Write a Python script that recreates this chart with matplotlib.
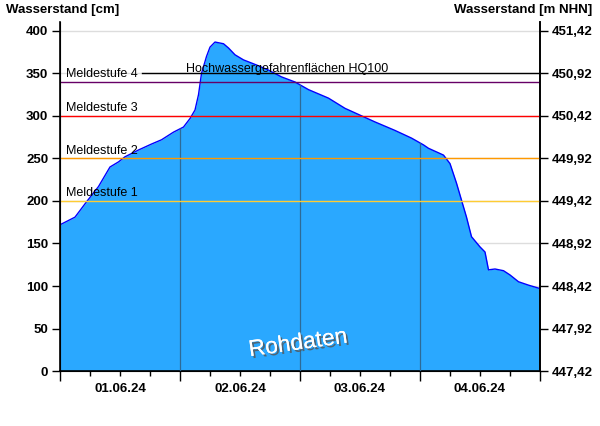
import numpy as np
import matplotlib.pyplot as plt
import matplotlib.patheffects as pe

plt.rcParams['font.family'] = ['Liberation Sans', 'DejaVu Sans']

# water level, hours since 01.06.24 00:00 -> cm
hours = [0, 3, 5.3, 7.7, 10, 11.7, 13, 15.7, 18.3, 20.3, 22.7, 24.7, 26, 27, 27.7,
         28.3, 29.3, 30, 31, 32.7, 33.7, 35, 36.7, 39.3, 41.7, 44.3, 47, 49.7, 53.7,
         57, 60, 63, 67, 70.3, 72.7, 73.7, 76.7, 78, 79.3, 80.3, 81.3, 82.3, 84, 85,
         85.7, 87, 88.7, 90, 91.7, 93.7, 96]
level = [172, 181, 199, 217, 240, 246, 252, 260, 267, 272, 281, 287, 297, 307, 325,
         350, 370, 381, 387, 385, 380, 372, 366, 360, 354, 346, 340, 331, 321,
         309, 301, 293, 283, 274, 266, 262, 254, 244, 221, 201, 181, 158, 146, 140,
         119, 120, 118, 113, 105, 101, 97]

day_labels = ["01.06.24", "02.06.24", "03.06.24", "04.06.24"]

# warning levels (Meldestufen)
stufen_names = ["Meldestufe 1", "Meldestufe 2", "Meldestufe 3", "Meldestufe 4"]
stufen_values = [200, 250, 300, 340]
stufen_colors = ["#ffcc33", "#ff9900", "#ff0000", "#660066"]
hq100 = 350

pegel_null = 447.42  # m NHN
y_max = 410.6

fig = plt.figure(figsize=(6, 4.26), dpi=100)
ax = fig.add_axes([0.1, 0.1291, 0.8, 0.8193])

ax.set_xlim(0, 96)
ax.set_ylim(0, y_max)

ax.set_yticks(np.arange(0, 401, 50))
ax.yaxis.grid(True, color="#dddddd", lw=1)
ax.set_axisbelow(True)

poly = ax.fill_between(hours, level, color="#2aa8ff", lw=0, zorder=2)
ax.plot(hours, level, color="#0000ff", lw=1, zorder=3)

# day separators, only inside the filled area
for d in [24, 48, 72]:
    vl = ax.axvline(d, color="#2e6a96", lw=0.9, zorder=4)
    vl.set_clip_path(poly.get_paths()[0], poly.get_transform())

for name, val, col in zip(stufen_names, stufen_values, stufen_colors):
    ax.axhline(val, color=col, lw=1, zorder=5)
    ax.text(1.2, val + 2, name, fontsize=9, va="bottom", ha="left", zorder=6)

ax.axhline(hq100, xmin=0.17, color="black", lw=1, zorder=5)
ax.text(25.2, hq100 + 1.5, "Hochwassergefahrenflächen HQ100", fontsize=9,
        va="baseline", ha="left", zorder=6)

ax.text(47.6, 33, "Rohdaten", fontsize=16.5, color="white", rotation=8,
        ha="center", va="center", zorder=7,
        path_effects=[pe.withSimplePatchShadow(offset=(1.5, -1.5), shadow_rgbFace="#555555", alpha=0.8),
                      pe.Normal()])

# x axis: day boundaries as major ticks, labels at noon
ax.set_xticks([0, 24, 48, 72, 96], labels=[""] * 5)
minor = [h for h in range(6, 96, 6) if h % 24 != 0]
minor_labels = [day_labels[h // 24] if h % 24 == 12 else "" for h in minor]
ax.set_xticks(minor, labels=minor_labels, minor=True)
ax.tick_params(axis="x", which="major", length=7, width=1)
ax.tick_params(axis="x", which="minor", length=3.5, width=1, pad=5,
               labelsize=9.5)
for lab in ax.get_xticklabels(minor=True):
    lab.set_fontweight("bold")

ax.tick_params(axis="y", length=5.5, width=1, labelsize=9.5, pad=3)
for lab in ax.get_yticklabels():
    lab.set_fontweight("bold")

for s in ["left", "right", "bottom"]:
    ax.spines[s].set_linewidth(1.2)
ax.spines["top"].set_visible(False)

ax2 = ax.twinx()
ax2.set_ylim(pegel_null, pegel_null + y_max / 100)
r_ticks = [pegel_null + 0.5 * k for k in range(9)]
ax2.set_yticks(r_ticks, labels=[f"{t:.2f}".replace(".", ",") for t in r_ticks])
ax2.tick_params(axis="y", length=5.5, width=1, labelsize=9.5, pad=3)
for lab in ax2.get_yticklabels():
    lab.set_fontweight("bold")
ax2.spines["top"].set_visible(False)
ax2.spines["right"].set_linewidth(1.2)

fig.text(0.01, 0.977, "Wasserstand [cm]", fontsize=9.5, fontweight="bold",
         ha="left", va="center")
fig.text(0.987, 0.977, "Wasserstand [m NHN]", fontsize=9.5, fontweight="bold",
         ha="right", va="center")

fig.savefig("out.png", dpi=100)
